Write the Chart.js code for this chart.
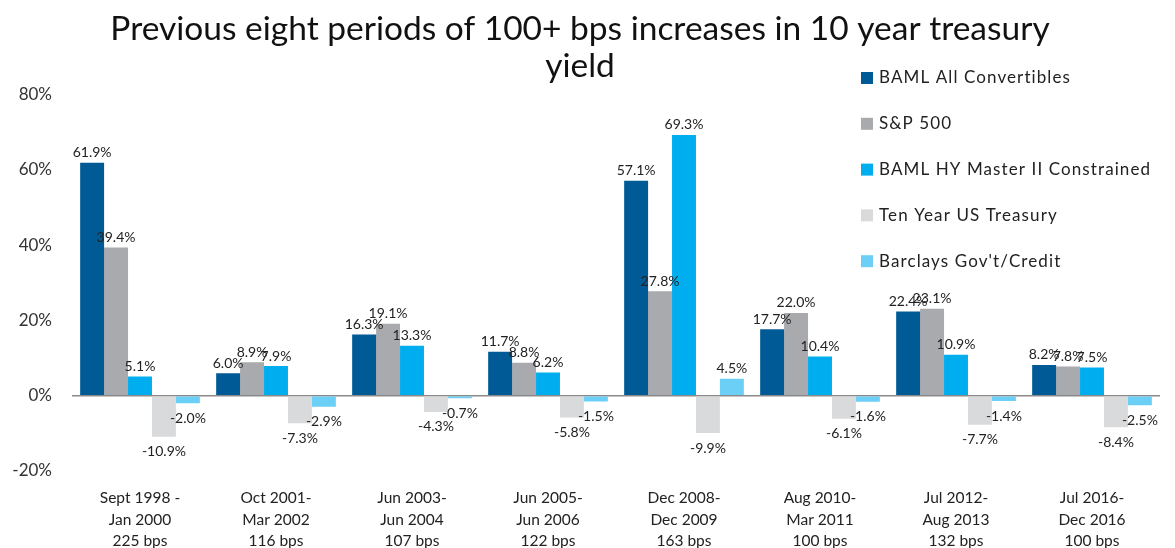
<!DOCTYPE html>
<html>
<head>
<meta charset="utf-8">
<script src="https://cdn.jsdelivr.net/npm/chart.js@4.4.1/dist/chart.umd.min.js"></script>
<style>
  html, body { margin: 0; padding: 0; background: #fff; }
  #wrap { width: 1175px; height: 548px; }
</style>
</head>
<body>
<div id="wrap"><canvas id="chart"></canvas></div>
<script>
// periods (3-line axis labels)
const periods = [
    ['Sept 1998 -', 'Jan 2000', '225 bps'],
    ['Oct 2001-', 'Mar 2002', '116 bps'],
    ['Jun 2003-', 'Jun 2004', '107 bps'],
    ['Jun 2005-', 'Jun 2006', '122 bps'],
    ['Dec 2008-', 'Dec 2009', '163 bps'],
    ['Aug 2010-', 'Mar 2011', '100 bps'],
    ['Jul 2012-', 'Aug 2013', '132 bps'],
    ['Jul 2016-', 'Dec 2016', '100 bps']
];

const seriesNames = ['BAML All Convertibles', 'S&P 500', 'BAML HY Master II Constrained', 'Ten Year US Treasury', "Barclays Gov't/Credit"];
const seriesColors = ['#005A96', '#A9AAAD', '#00AEEF', '#D9DADB', '#6CCFF6'];

const bamlConvertibles = [61.9, 6.0, 16.3, 11.7, 57.1, 17.7, 22.4, 8.2];
const sp500 = [39.4, 8.9, 19.1, 8.8, 27.8, 22.0, 23.1, 7.8];
const bamlHY = [5.1, 7.9, 13.3, 6.2, 69.3, 10.4, 10.9, 7.5];
const tenYearTreasury = [-10.9, -7.3, -4.3, -5.8, -9.9, -6.1, -7.7, -8.4];
const barclaysGovCredit = [-2.0, -2.9, -0.7, -1.5, 4.5, -1.6, -1.4, -2.5];

const yTicks = [-20, 0, 20, 40, 60, 80];

const allSeries = [bamlConvertibles, sp500, bamlHY, tenYearTreasury, barclaysGovCredit];

// value labels on top / under every bar
const valueLabels = {
    id: 'valueLabels',
    afterDatasetsDraw(chart) {
        const ctx = chart.ctx;
        ctx.save();
        ctx.font = '14px Lato';
        ctx.fillStyle = '#222';
        ctx.textAlign = 'center';
        chart.data.datasets.forEach((ds, i) => {
            const meta = chart.getDatasetMeta(i);
            meta.data.forEach((bar, j) => {
                const v = ds.data[j];
                const txt = v.toFixed(1) + '%';
                if (v >= 0) {
                    ctx.textBaseline = 'bottom';
                    ctx.fillText(txt, bar.x, bar.y - 3);
                } else {
                    ctx.textBaseline = 'top';
                    ctx.fillText(txt, bar.x, bar.y + 8);
                }
            });
        });
        ctx.restore();
    }
};

// legend stacked at the right, inside the plot
const sideLegend = {
    id: 'sideLegend',
    afterDraw(chart) {
        const ctx = chart.ctx;
        ctx.save();
        ctx.font = '17px Lato';
        ctx.letterSpacing = '1.1px';
        ctx.textBaseline = 'middle';
        ctx.textAlign = 'left';
        chart.data.datasets.forEach((ds, i) => {
            const y = 78 + i * 45.8;
            ctx.fillStyle = ds.backgroundColor;
            ctx.fillRect(861, y - 6, 12, 12);
            ctx.fillStyle = '#222';
            ctx.fillText(ds.label, 879, y);
        });
        ctx.restore();
    }
};

const ctx = document.getElementById('chart').getContext('2d');
new Chart(ctx, {
    type: 'bar',
    data: {
        labels: periods,
        datasets: allSeries.map((vals, i) => ({
            label: seriesNames[i],
            data: vals,
            backgroundColor: seriesColors[i],
            borderWidth: 0,
            barPercentage: 1,
            categoryPercentage: 0.88
        }))
    },
    options: {
        responsive: true,
        maintainAspectRatio: false,
        animation: false,
        layout: { padding: { left: 0, right: 15, top: 0, bottom: 0 } },
        plugins: {
            legend: { display: false },
            tooltip: { enabled: false },
            title: {
                display: true,
                text: ['Previous eight periods of 100+ bps increases in 10 year treasury', 'yield'],
                color: '#111',
                font: { family: 'Lato', size: 33.5, weight: 'normal', lineHeight: 1.1 },
                padding: { top: 11, bottom: 10 }
            }
        },
        scales: {
            x: {
                grid: { display: false },
                border: { display: false },
                ticks: {
                    color: '#222',
                    font: { family: 'Lato', size: 15.5, lineHeight: 1.4 },
                    padding: 8,
                    maxRotation: 0,
                    autoSkip: false
                },
                afterFit(scale) { scale.height = 77; }
            },
            y: {
                min: -20,
                max: 80,
                afterBuildTicks(scale) { scale.ticks = yTicks.map(v => ({ value: v })); },
                grid: {
                    drawTicks: false,
                    lineWidth: 1.5,
                    color: c => (c.tick && c.tick.value === 0) ? '#8a8a8a' : 'transparent'
                },
                border: { display: false },
                ticks: {
                    color: '#333',
                    font: { family: 'Lato', size: 17 },
                    padding: 20,
                    callback: v => v + '%'
                },
                afterFit(scale) { scale.width = 72; }
            }
        }
    },
    plugins: [valueLabels, sideLegend]
});
</script>
</body>
</html>
